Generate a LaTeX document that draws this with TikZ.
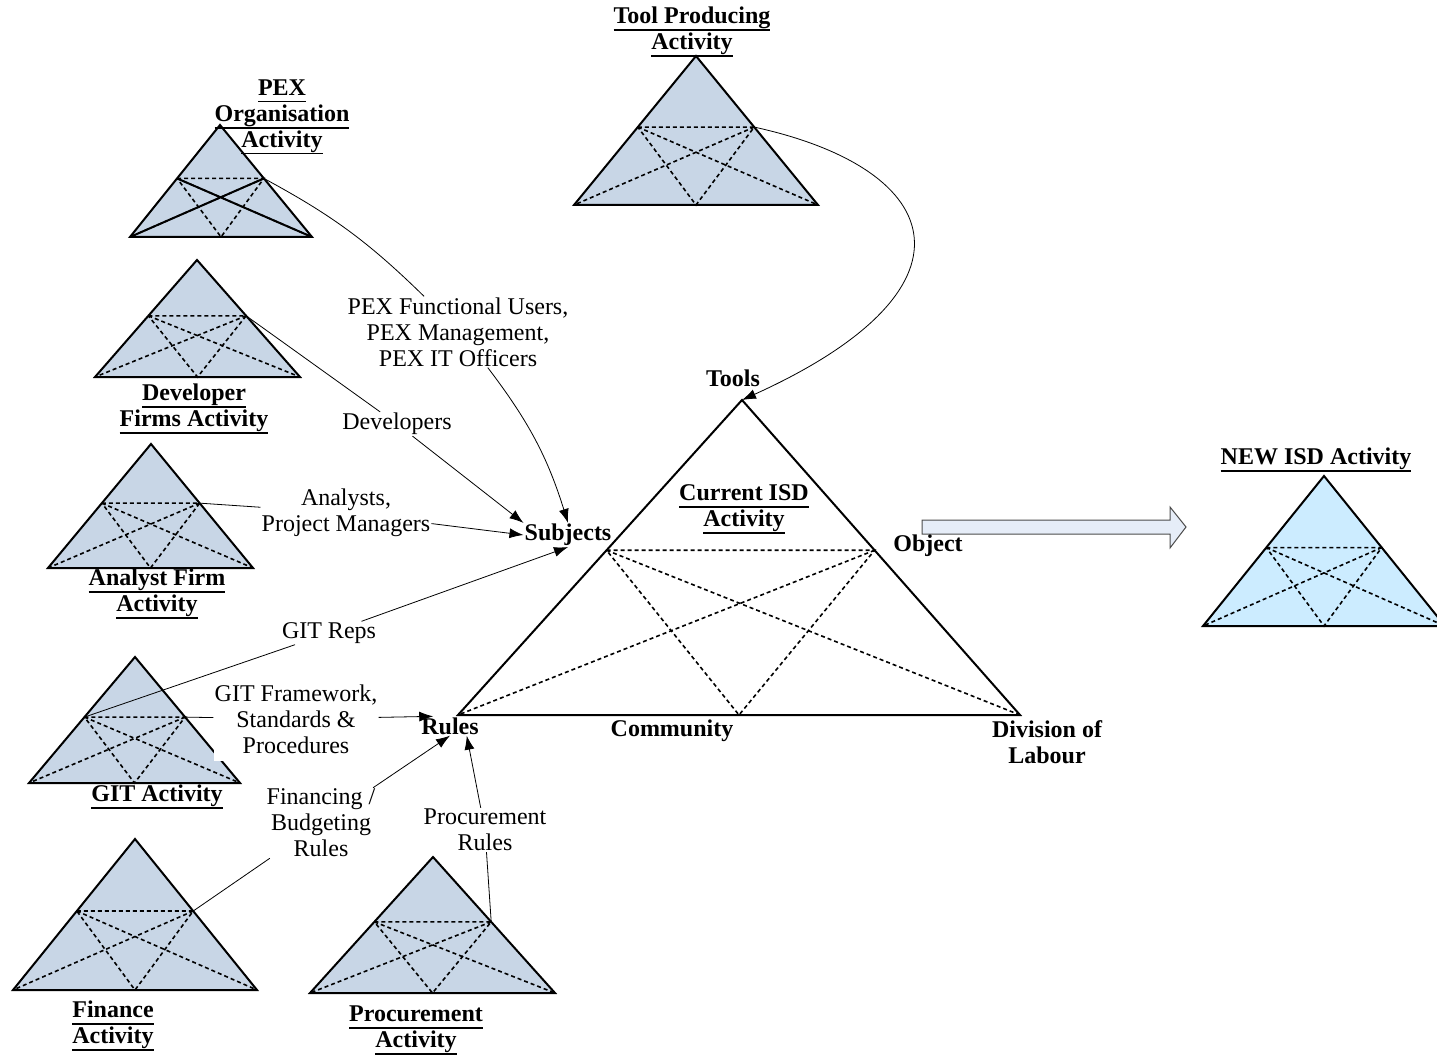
\documentclass[tikz,border=0pt]{standalone}
\usepackage{fontspec}
\setmainfont{Liberation Serif}
\usepackage{tikz}
\usetikzlibrary{calc,arrows.meta}
\definecolor{actfill}{RGB}{200,214,230}
\definecolor{newfill}{RGB}{204,236,255}
\definecolor{arrowfill}{RGB}{230,237,248}
\def\webpos{0.477} % height of the inner line, from the apex
% bold title with a heavy underline
\newcommand\acttitle[1]{\leavevmode\vtop{\hbox{\textbf{#1}\vphantom{y}}\kern0.5pt\hrule height 1.6pt}}
% activity triangle: [fill]{name}{apex}{base left}{base right}
\newcommand\activity[5][actfill]{%
  \coordinate (#2-t) at (#3);
  \coordinate (#2-l) at (#4);
  \coordinate (#2-r) at (#5);
  \coordinate (#2-sl) at ($(#2-t)!\webpos!(#2-l)$);
  \coordinate (#2-sr) at ($(#2-t)!\webpos!(#2-r)$);
  \coordinate (#2-b) at ($(#2-l)!0.5!(#2-r)$);
  \filldraw[trisides, fill=#1] (#2-t) -- (#2-l) -- (#2-r) -- cycle;
  \draw[triweb] (#2-sl) -- (#2-sr) -- (#2-b) -- cycle;
  \draw[triweb] (#2-sl) -- (#2-r) (#2-sr) -- (#2-l);
}
\tikzset{
  trisides/.style={draw=black, line width=2pt},
  triweb/.style={line width=1.6pt, dash pattern=on 4pt off 3pt},
  conn/.style={line width=0.8pt},
  arr/.style={conn, -{Latex[length=14pt,width=10pt]}},
  corner/.style={font=\fontsize{24}{26}\selectfont\bfseries}
}

\begin{document}
\begin{tikzpicture}[x=1pt,y=-1pt,every node/.style={font=\fontsize{24}{26}\selectfont, align=center, inner sep=1pt}]
  \useasboundingbox (0,0) rectangle (1437,1056);

  %% the triangles
  \activity{tool}{696,56}{574,205}{818,205}
  \activity{pex}{220,125}{130,237}{312,237}
  \draw[line width=2pt] (pex-sl) -- (pex-r) (pex-sr) -- (pex-l);
  \activity{dev}{197,260}{95,377}{300,377}
  \activity{ana}{151,444}{48,568}{253,568}
  \activity{git}{135,657}{29,783}{240,783}
  \activity{fin}{135,839}{13,990}{257,990}
  \activity{proc}{433,857}{310,993}{555,993}
  \activity[white]{cur}{742,400}{458,715}{1020,715}
  \activity[newfill]{new}{1324,476}{1203,626}{1445,626}

  % block arrow to the new activity
  \filldraw[draw=black!70, fill=arrowfill, line width=1pt]
    (922,520) -- (1170,520) -- (1170,507) -- (1186,527) -- (1170,548) -- (1170,534) -- (922,534) -- cycle;

  %% titles
  \node (tooltitle) at (692,32) {\acttitle{Tool Producing}\\\acttitle{Activity}};
  \node (pextitle) at (282,117) {\acttitle{PEX}\\\acttitle{Organisation}\\\acttitle{Activity}};
  \node (devtitle) at (194,409) {\acttitle{Developer}\\\acttitle{Firms Activity}};
  \node (anatitle) at (157,594) {\acttitle{Analyst Firm}\\\acttitle{Activity}};
  \node (gittitle) at (157,797) {\acttitle{GIT Activity}};
  \node (fintitle) at (113,1026) {\acttitle{Finance}\\\acttitle{Activity}};
  \node (proctitle) at (416,1030) {\acttitle{Procurement}\\\acttitle{Activity}};
  \node (curtitle) at (744,509) {\acttitle{Current ISD}\\\acttitle{Activity}};
  \node (newtitle) at (1316,460) {\acttitle{NEW ISD Activity}};

  %% corners of the current activity
  \node[corner] (tools) at (733,378) {Tools};
  \node[corner] (subj) at (568,535) {Subjects};
  \node[corner] (object) at (928,546) {Object};
  \node[corner] (rules) at (450,726) {Rules};
  \node[corner] (community) at (672,731) {Community};
  \node[corner] (division) at (1047,742) {Division of\\Labour};

  %% what the other activities bring
  \node (pexusers) at (458,332) {PEX Functional Users,\\PEX Management,\\PEX IT Officers};
  \node (developers) at (397,424) {Developers};
  \node (analysts) at (346,513) {Analysts,\\Project Managers};
  \node (gitreps) at (329,633) {GIT Reps};
  \node[fill=white, inner ysep=8pt] (gitfw) at (296,719) {GIT Framework,\\Standards \&\\Procedures};
  \node (financing) at (321,823) {Financing /\\Budgeting\\Rules};
  \node (procrules) at (485,830) {Procurement\\Rules};

  \draw[conn] (pex-sr) to[bend left=8] (pexusers);
  \draw[arr] (pexusers) to[bend left=10] (subj.north);
  \draw[conn] (dev-sr) -- (developers);
  \draw[arr] (developers) -- (subj.north west);
  \draw[conn] (ana-sr) -- (analysts);
  \draw[arr] (analysts) -- (subj.west);
  \draw[conn] (git-sl) -- (gitreps);
  \draw[arr] (gitreps) -- (subj.south);
  \draw[conn] (git-sr) -- (gitfw);
  \draw[arr] (gitfw) -- (rules.150);
  \draw[conn] (fin-sr) -- (financing);
  \draw[arr] (financing) -- (rules.south);
  \draw[conn] (proc-sr) -- (procrules);
  \draw[arr] (procrules) -- (rules.-30);
  \draw[arr] (tool-sr) .. controls (950,170) and (985,290) .. (cur-t);
\end{tikzpicture}
\end{document}
